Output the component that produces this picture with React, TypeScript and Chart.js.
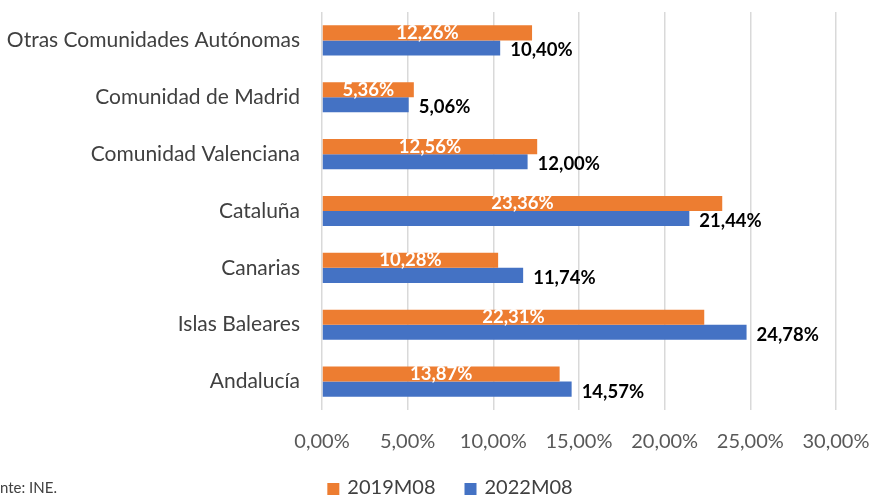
import React, { useEffect, useRef } from 'react';
import { Chart, registerables } from 'chart.js';

Chart.register(...registerables);

const categories = [
  'Otras Comunidades Autónomas',
  'Comunidad de Madrid',
  'Comunidad Valenciana',
  'Cataluña',
  'Canarias',
  'Islas Baleares',
  'Andalucía',
];
const series2019 = [12.26, 5.36, 12.56, 23.36, 10.28, 22.31, 13.87];
const series2022 = [10.4, 5.06, 12.0, 21.44, 11.74, 24.78, 14.57];
const seriesLabels = ['2019M08', '2022M08'];
const seriesColors = ['#ED7D31', '#4472C4'];
const sourceNote = 'Fuente: INE.';
const xMin = 0;
const xMax = 30;
const xStep = 5;

const FONT = 'Lato';
const fmt = (v: number) => Number(v).toFixed(2).replace('.', ',') + '%';

export default function App() {
  const ref = useRef<HTMLCanvasElement>(null);

  useEffect(() => {
    if (!ref.current) return;

    const valueLabels = {
      id: 'valueLabels',
      afterDatasetsDraw(chart: any) {
        const ctx = chart.ctx;
        ctx.save();
        chart.data.datasets.forEach((ds: any, di: number) => {
          const meta = chart.getDatasetMeta(di);
          meta.data.forEach((bar: any, i: number) => {
            const v = ds.data[i];
            ctx.font = `bold 18.5px ${FONT}`;
            ctx.textBaseline = 'middle';
            if (di === 0) {
              ctx.fillStyle = '#ffffff';
              ctx.textAlign = 'center';
              ctx.fillText(fmt(v), (bar.x + bar.base) / 2, bar.y);
            } else {
              ctx.fillStyle = '#000000';
              ctx.textAlign = 'left';
              ctx.fillText(fmt(v), bar.x + 10, bar.y + 2.5);
            }
          });
        });
        ctx.restore();
      },
      afterDraw(chart: any) {
        const ctx = chart.ctx;
        ctx.save();
        // legend
        ctx.font = `20px ${FONT}`;
        ctx.textBaseline = 'middle';
        ctx.textAlign = 'left';
        const box = 12;
        const gap = 8;
        const spacing = 29;
        const widths = chart.data.datasets.map(
          (ds: any) => box + gap + ctx.measureText(ds.label).width
        );
        const total = widths.reduce((a: number, b: number) => a + b, 0) + spacing * (widths.length - 1);
        let x = 450 - total / 2;
        const y = 488;
        chart.data.datasets.forEach((ds: any, i: number) => {
          ctx.fillStyle = ds.backgroundColor;
          ctx.fillRect(x, y - box / 2 + 1, box, box);
          ctx.fillStyle = '#404040';
          ctx.fillText(ds.label, x + box + gap, y);
          x += widths[i] + spacing;
        });
        // source note (cut off at the left edge, as in the reference)
        ctx.font = `15px ${FONT}`;
        ctx.fillStyle = '#404040';
        const cut = ctx.measureText('Fue').width;
        ctx.fillText(sourceNote, -cut, y);
        ctx.restore();
      },
    };

    const zeroPad = (s: any) => {
      s.paddingTop = 0;
      s.paddingBottom = 0;
      s.paddingLeft = 0;
      s.paddingRight = 0;
    };

    const chart = new Chart(ref.current, {
      type: 'bar',
      data: {
        labels: categories,
        datasets: [
          {
            label: seriesLabels[0],
            data: series2019,
            backgroundColor: seriesColors[0],
            categoryPercentage: 0.53,
            barPercentage: 1.0,
          },
          {
            label: seriesLabels[1],
            data: series2022,
            backgroundColor: seriesColors[1],
            categoryPercentage: 0.53,
            barPercentage: 1.0,
          },
        ],
      },
      options: {
        indexAxis: 'y',
        animation: false,
        responsive: false,
        layout: { padding: { left: 0, right: 37, top: 12, bottom: 48 } },
        scales: {
          x: {
            min: xMin,
            max: xMax,
            ticks: {
              stepSize: xStep,
              maxRotation: 0,
              autoSkip: false,
              callback: (v: any) => fmt(v),
              color: '#595959',
              font: { family: FONT, size: 20 },
              padding: 20,
            },
            grid: { color: '#d9d9d9', lineWidth: 1.5, drawTicks: false },
            border: { display: false },
            afterFit: (s: any) => {
              zeroPad(s);
              s.height = 41;
            },
          },
          y: {
            grid: { display: false, drawTicks: false },
            border: { display: false },
            ticks: {
              color: '#404040',
              font: { family: FONT, size: 21 },
              padding: 22,
            },
            afterFit: (s: any) => {
              zeroPad(s);
              s.width = 322;
            },
          },
        },
        plugins: {
          legend: { display: false },
          tooltip: { enabled: false },
        },
      },
      plugins: [valueLabels],
    } as any);

    return () => chart.destroy();
  }, []);

  return (
    <div style={{ position: 'fixed', left: 0, top: 0, width: 873, height: 499, background: '#fff' }}>
      <canvas ref={ref} width={873} height={499} />
    </div>
  );
}
